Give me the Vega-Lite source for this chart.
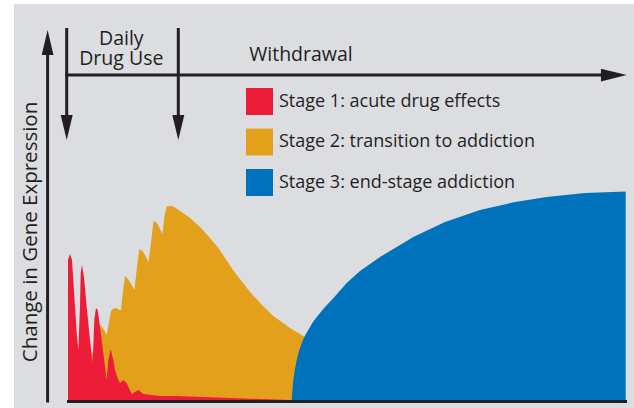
{
  "$schema": "https://vega.github.io/schema/vega-lite/v6.json",
  "width": 620,
  "height": 404,
  "autosize": {"type": "none"},
  "padding": {"left": 14, "top": 4, "right": 0, "bottom": 0},
  "background": "#ffffff",
  "config": {"view": {"fill": "#dcdde0", "stroke": null}, "font": "Open Sans"},
  "datasets": {
    "areas": [
      {"stage": "Stage 2: transition to addiction", "x": 90, "y": 40},
      {"stage": "Stage 2: transition to addiction", "x": 93, "y": 50},
      {"stage": "Stage 2: transition to addiction", "x": 97, "y": 72},
      {"stage": "Stage 2: transition to addiction", "x": 100, "y": 76},
      {"stage": "Stage 2: transition to addiction", "x": 103, "y": 73},
      {"stage": "Stage 2: transition to addiction", "x": 106.7, "y": 66},
      {"stage": "Stage 2: transition to addiction", "x": 111, "y": 90},
      {"stage": "Stage 2: transition to addiction", "x": 113, "y": 92},
      {"stage": "Stage 2: transition to addiction", "x": 116, "y": 93},
      {"stage": "Stage 2: transition to addiction", "x": 119.5, "y": 91},
      {"stage": "Stage 2: transition to addiction", "x": 121, "y": 91},
      {"stage": "Stage 2: transition to addiction", "x": 123, "y": 110},
      {"stage": "Stage 2: transition to addiction", "x": 125, "y": 125},
      {"stage": "Stage 2: transition to addiction", "x": 128, "y": 122},
      {"stage": "Stage 2: transition to addiction", "x": 131.5, "y": 116},
      {"stage": "Stage 2: transition to addiction", "x": 134.5, "y": 111},
      {"stage": "Stage 2: transition to addiction", "x": 136.5, "y": 130},
      {"stage": "Stage 2: transition to addiction", "x": 139.3, "y": 152},
      {"stage": "Stage 2: transition to addiction", "x": 142.5, "y": 150},
      {"stage": "Stage 2: transition to addiction", "x": 145.5, "y": 145},
      {"stage": "Stage 2: transition to addiction", "x": 148.5, "y": 139},
      {"stage": "Stage 2: transition to addiction", "x": 150, "y": 150},
      {"stage": "Stage 2: transition to addiction", "x": 153.5, "y": 180},
      {"stage": "Stage 2: transition to addiction", "x": 157, "y": 178},
      {"stage": "Stage 2: transition to addiction", "x": 160, "y": 172},
      {"stage": "Stage 2: transition to addiction", "x": 162.5, "y": 167},
      {"stage": "Stage 2: transition to addiction", "x": 164.5, "y": 185},
      {"stage": "Stage 2: transition to addiction", "x": 166.7, "y": 194.5},
      {"stage": "Stage 2: transition to addiction", "x": 171.7, "y": 195},
      {"stage": "Stage 2: transition to addiction", "x": 176, "y": 193},
      {"stage": "Stage 2: transition to addiction", "x": 180, "y": 190},
      {"stage": "Stage 2: transition to addiction", "x": 190, "y": 183},
      {"stage": "Stage 2: transition to addiction", "x": 200, "y": 174},
      {"stage": "Stage 2: transition to addiction", "x": 210, "y": 163},
      {"stage": "Stage 2: transition to addiction", "x": 218.3, "y": 153},
      {"stage": "Stage 2: transition to addiction", "x": 233, "y": 131},
      {"stage": "Stage 2: transition to addiction", "x": 250, "y": 109},
      {"stage": "Stage 2: transition to addiction", "x": 262, "y": 96},
      {"stage": "Stage 2: transition to addiction", "x": 273.3, "y": 85},
      {"stage": "Stage 2: transition to addiction", "x": 290, "y": 73},
      {"stage": "Stage 2: transition to addiction", "x": 306.7, "y": 63},
      {"stage": "Stage 2: transition to addiction", "x": 320, "y": 55},

      {"stage": "Stage 1: acute drug effects", "x": 68, "y": 141},
      {"stage": "Stage 1: acute drug effects", "x": 70, "y": 147},
      {"stage": "Stage 1: acute drug effects", "x": 72, "y": 141},
      {"stage": "Stage 1: acute drug effects", "x": 75, "y": 94},
      {"stage": "Stage 1: acute drug effects", "x": 76.7, "y": 68},
      {"stage": "Stage 1: acute drug effects", "x": 78.3, "y": 51},
      {"stage": "Stage 1: acute drug effects", "x": 80, "y": 94},
      {"stage": "Stage 1: acute drug effects", "x": 80.7, "y": 128},
      {"stage": "Stage 1: acute drug effects", "x": 82, "y": 136},
      {"stage": "Stage 1: acute drug effects", "x": 84, "y": 124},
      {"stage": "Stage 1: acute drug effects", "x": 86.7, "y": 94},
      {"stage": "Stage 1: acute drug effects", "x": 90, "y": 61},
      {"stage": "Stage 1: acute drug effects", "x": 92.7, "y": 38},
      {"stage": "Stage 1: acute drug effects", "x": 94.3, "y": 81},
      {"stage": "Stage 1: acute drug effects", "x": 96, "y": 93},
      {"stage": "Stage 1: acute drug effects", "x": 97.7, "y": 91},
      {"stage": "Stage 1: acute drug effects", "x": 100, "y": 74},
      {"stage": "Stage 1: acute drug effects", "x": 103.3, "y": 48},
      {"stage": "Stage 1: acute drug effects", "x": 106.7, "y": 21},
      {"stage": "Stage 1: acute drug effects", "x": 108.3, "y": 41},
      {"stage": "Stage 1: acute drug effects", "x": 110.7, "y": 52},
      {"stage": "Stage 1: acute drug effects", "x": 113.3, "y": 41},
      {"stage": "Stage 1: acute drug effects", "x": 115, "y": 31},
      {"stage": "Stage 1: acute drug effects", "x": 118.3, "y": 21},
      {"stage": "Stage 1: acute drug effects", "x": 120, "y": 18},
      {"stage": "Stage 1: acute drug effects", "x": 123.3, "y": 21},
      {"stage": "Stage 1: acute drug effects", "x": 126.7, "y": 18},
      {"stage": "Stage 1: acute drug effects", "x": 131.7, "y": 7},
      {"stage": "Stage 1: acute drug effects", "x": 138.3, "y": 11},
      {"stage": "Stage 1: acute drug effects", "x": 143.3, "y": 7},
      {"stage": "Stage 1: acute drug effects", "x": 160, "y": 5},
      {"stage": "Stage 1: acute drug effects", "x": 176, "y": 5},
      {"stage": "Stage 1: acute drug effects", "x": 210, "y": 3.7},
      {"stage": "Stage 1: acute drug effects", "x": 243, "y": 2.5},
      {"stage": "Stage 1: acute drug effects", "x": 290, "y": 1},
      {"stage": "Stage 1: acute drug effects", "x": 292, "y": 0.5},

      {"stage": "Stage 3: end-stage addiction", "x": 291.7, "y": 0},
      {"stage": "Stage 3: end-stage addiction", "x": 292.2, "y": 8},
      {"stage": "Stage 3: end-stage addiction", "x": 293.3, "y": 21},
      {"stage": "Stage 3: end-stage addiction", "x": 294.8, "y": 31},
      {"stage": "Stage 3: end-stage addiction", "x": 296.7, "y": 41},
      {"stage": "Stage 3: end-stage addiction", "x": 299, "y": 50},
      {"stage": "Stage 3: end-stage addiction", "x": 301.7, "y": 58},
      {"stage": "Stage 3: end-stage addiction", "x": 304.8, "y": 65},
      {"stage": "Stage 3: end-stage addiction", "x": 308.3, "y": 71},
      {"stage": "Stage 3: end-stage addiction", "x": 312.3, "y": 78},
      {"stage": "Stage 3: end-stage addiction", "x": 316.7, "y": 84},
      {"stage": "Stage 3: end-stage addiction", "x": 325, "y": 94},
      {"stage": "Stage 3: end-stage addiction", "x": 331.7, "y": 101},
      {"stage": "Stage 3: end-stage addiction", "x": 346.7, "y": 118},
      {"stage": "Stage 3: end-stage addiction", "x": 360, "y": 130},
      {"stage": "Stage 3: end-stage addiction", "x": 380, "y": 144},
      {"stage": "Stage 3: end-stage addiction", "x": 400, "y": 156},
      {"stage": "Stage 3: end-stage addiction", "x": 413.3, "y": 164},
      {"stage": "Stage 3: end-stage addiction", "x": 445, "y": 179},
      {"stage": "Stage 3: end-stage addiction", "x": 480, "y": 191},
      {"stage": "Stage 3: end-stage addiction", "x": 515, "y": 199},
      {"stage": "Stage 3: end-stage addiction", "x": 546.7, "y": 204},
      {"stage": "Stage 3: end-stage addiction", "x": 585, "y": 208},
      {"stage": "Stage 3: end-stage addiction", "x": 625.7, "y": 209.5}
    ],
    "lines": [
      {"x": 47.6, "y": -1.5, "x2": 47.6, "y2": 348},
      {"x": 65.3, "y": 326, "x2": 604, "y2": 326},
      {"x": 66.7, "y": 373, "x2": 66.7, "y2": 284},
      {"x": 178.3, "y": 373, "x2": 178.3, "y2": 284},
      {"x": 67, "y": -0.5, "x2": 627, "y2": -0.5}
    ],
    "heads": [
      {"dir": "up", "x": 47.6, "y": 358.5},
      {"dir": "down", "x": 66.7, "y": 273.5},
      {"dir": "down", "x": 178.3, "y": 273.5},
      {"dir": "right", "x": 613.8, "y": 326}
    ],
    "labels": [
      {"label": ["Daily", "Drug Use"], "x": 121.3, "y": 356},
      {"label": ["Withdrawal"], "x": 301, "y": 340.3}
    ],
    "ylabel": [
      {"label": "Change in Gene Expression", "x": 37, "y": 169}
    ]
  },
  "encoding": {
    "x": {"field": "x", "type": "quantitative", "scale": {"domain": [14, 634], "nice": false, "zero": false}, "axis": null},
    "y": {"field": "y", "type": "quantitative", "scale": {"domain": [-7, 397], "nice": false, "zero": false}, "axis": null}
  },
  "layer": [
    {
      "data": {"name": "areas"},
      "transform": [{"filter": "datum.stage === 'Stage 2: transition to addiction'"}],
      "mark": {"type": "area", "opacity": 1},
      "encoding": {
        "y": {"field": "y", "type": "quantitative", "stack": null, "scale": {"domain": [-7, 397], "nice": false, "zero": false}, "axis": null},
        "y2": {"datum": 0},
        "color": {
          "field": "stage", "type": "nominal",
          "scale": {"domain": ["Stage 1: acute drug effects", "Stage 2: transition to addiction", "Stage 3: end-stage addiction"], "range": ["#ed1c39", "#e3a01a", "#0072bc"]},
          "legend": {"orient": "none", "legendX": 232, "legendY": 84, "title": null, "symbolType": "square", "symbolSize": 729, "symbolStrokeWidth": 0, "symbolOpacity": 1, "labelFont": "Open Sans", "labelFontSize": 18, "labelColor": "#231f20", "labelOffset": 6, "labelLimit": 500, "rowPadding": 13.5, "padding": 0}
        }
      }
    },
    {
      "data": {"name": "areas"},
      "transform": [{"filter": "datum.stage === 'Stage 1: acute drug effects'"}],
      "mark": {"type": "area", "opacity": 1},
      "encoding": {
        "y": {"field": "y", "type": "quantitative", "stack": null, "scale": {"domain": [-7, 397], "nice": false, "zero": false}, "axis": null},
        "y2": {"datum": 0},
        "color": {"field": "stage", "type": "nominal"}
      }
    },
    {
      "data": {"name": "areas"},
      "transform": [{"filter": "datum.stage === 'Stage 3: end-stage addiction'"}],
      "mark": {"type": "area", "opacity": 1},
      "encoding": {
        "y": {"field": "y", "type": "quantitative", "stack": null, "scale": {"domain": [-7, 397], "nice": false, "zero": false}, "axis": null},
        "y2": {"datum": 0},
        "color": {"field": "stage", "type": "nominal"}
      }
    },
    {
      "data": {"name": "lines"},
      "mark": {"type": "rule", "color": "#231f20", "strokeWidth": 3},
      "encoding": {"x2": {"field": "x2"}, "y2": {"field": "y2"}}
    },
    {
      "data": {"name": "heads"},
      "mark": {"type": "point", "filled": true, "size": 625, "color": "#231f20", "opacity": 1, "strokeWidth": 0},
      "encoding": {
        "shape": {"field": "dir", "type": "nominal", "scale": {"domain": ["up", "down", "right"], "range": ["M0,-1L0.47,1L-0.47,1Z", "M0,1L0.48,-1L-0.48,-1Z", "M1.03,0L-1.03,0.51L-1.03,-0.51Z"]}, "legend": null}
      }
    },
    {
      "data": {"name": "labels"},
      "mark": {"type": "text", "font": "Open Sans", "fontSize": 19.5, "lineHeight": 20, "color": "#231f20", "align": "center", "baseline": "alphabetic"},
      "encoding": {"text": {"field": "label"}}
    },
    {
      "data": {"name": "ylabel"},
      "mark": {"type": "text", "font": "Open Sans", "fontSize": 20.5, "color": "#231f20", "align": "center", "baseline": "alphabetic", "angle": 270},
      "encoding": {"text": {"field": "label"}}
    }
  ]
}
